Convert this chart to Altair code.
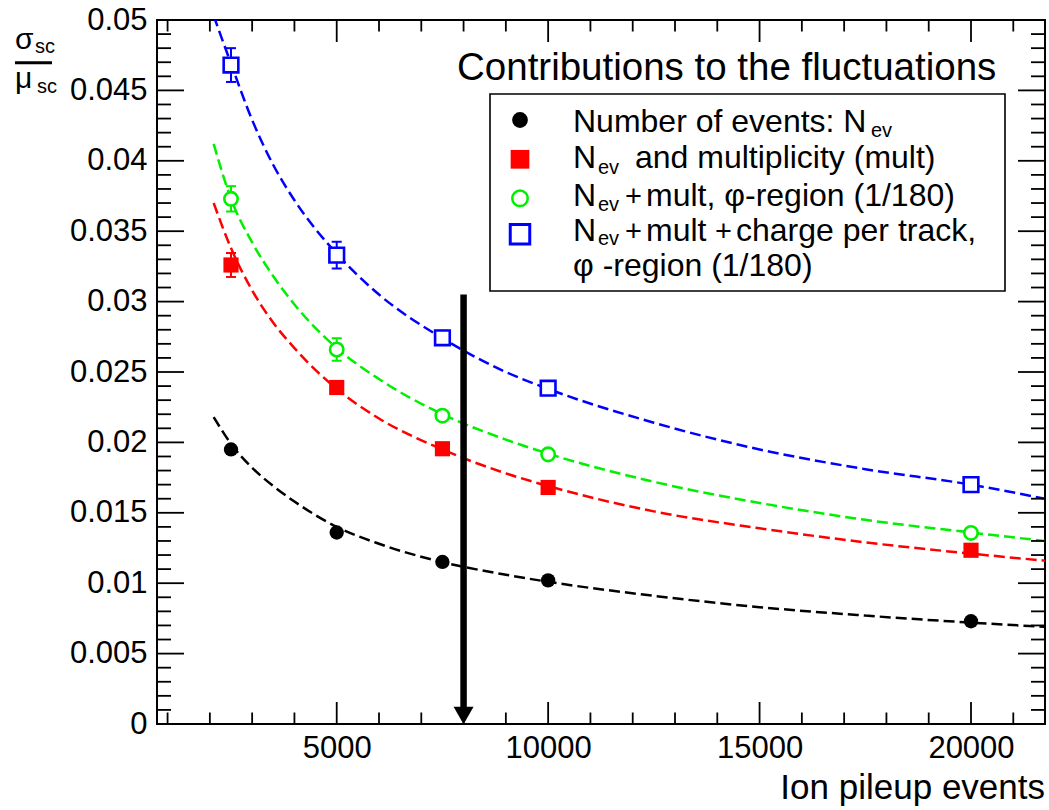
import altair as alt
import pandas as pd

# ---------------- data ----------------
X_EVENTS = [2500, 5000, 7500, 10000, 20000]

Y_NEV = [0.0195, 0.0136, 0.01151, 0.0102, 0.0073]
E_NEV = [0.0002, 0.0002, 0.0001, 0.0001, 0.0001]
Y_MULT = [0.0326, 0.0239, 0.01955, 0.0168, 0.01234]
E_MULT = [0.00085, 0.0004, 0.0002, 0.0002, 0.0001]
Y_PHI = [0.0373, 0.0266, 0.0219, 0.01915, 0.01357]
E_PHI = [0.0009, 0.0008, 0.0003, 0.0002, 0.0002]
Y_CHARGE = [0.0468, 0.0333, 0.02743, 0.02385, 0.0170]
E_CHARGE = [0.0012, 0.00095, 0.0005, 0.0003, 0.0002]

CURVE_X = [2090, 2500, 3000, 3500, 4000, 5000, 6000, 7500, 9000, 10000,
           12500, 15000, 17500, 20000, 21750]
CURVE_NEV = [0.0218, 0.0199, 0.0182, 0.0169, 0.0158, 0.0140, 0.0128, 0.0115,
             0.0106, 0.0101, 0.0091, 0.0083, 0.0077, 0.0072, 0.0069]
CURVE_MULT = [0.0370, 0.0338, 0.0308, 0.0285, 0.0267, 0.0238, 0.0217, 0.0195,
              0.0178, 0.0169, 0.0151, 0.0139, 0.0129, 0.0121, 0.0116]
CURVE_PHI = [0.0412, 0.0373, 0.0342, 0.0318, 0.0298, 0.0267, 0.0245, 0.0220,
             0.0202, 0.0192, 0.0172, 0.0157, 0.0145, 0.0136, 0.0130]
CURVE_CHARGE = [0.0503, 0.0469, 0.0429, 0.0397, 0.0372, 0.0334, 0.0305, 0.0274,
                0.0250, 0.0238, 0.0214, 0.0195, 0.0181, 0.0170, 0.0160]

ARROW_X = [8000]
ARROW_TOP = [0.0305]
ARROW_END = [0.0010]
ARROW_TIP = [0.0]

X_DOMAIN = [750, 21750]
Y_DOMAIN = [0, 0.05]
X_MAJOR = [5000, 10000, 15000, 20000]
X_MINOR = [1000, 2000, 3000, 4000, 6000, 7000, 8000, 9000, 11000, 12000, 13000,
           14000, 16000, 17000, 18000, 19000, 21000]
Y_MAJOR = [0, 0.005, 0.01, 0.015, 0.02, 0.025, 0.03, 0.035, 0.04, 0.045, 0.05]
Y_MINOR = [0.001, 0.002, 0.003, 0.004, 0.006, 0.007, 0.008, 0.009,
           0.011, 0.012, 0.013, 0.014, 0.016, 0.017, 0.018, 0.019,
           0.021, 0.022, 0.023, 0.024, 0.026, 0.027, 0.028, 0.029,
           0.031, 0.032, 0.033, 0.034, 0.036, 0.037, 0.038, 0.039,
           0.041, 0.042, 0.043, 0.044, 0.046, 0.047, 0.048, 0.049]

# ---------------- layout ----------------
W, H = 888, 704
FONT = "Liberation Sans"
BLACK, RED, GREEN, BLUE = "#000000", "#ff0000", "#00f000", "#0000ff"

XS = alt.Scale(domain=X_DOMAIN, nice=False, zero=False)
YS = alt.Scale(domain=Y_DOMAIN, nice=False, zero=False)
X_AXIS = alt.Axis(values=X_MAJOR, format="d", ticks=False, domain=False, grid=False,
                  labelFont=FONT, labelFontSize=31, labelColor="black",
                  labelPadding=9, title=None)
Y_AXIS = alt.Axis(values=Y_MAJOR, format="~g", ticks=False, domain=False, grid=False,
                  labelFont=FONT, labelFontSize=31, labelColor="black",
                  labelPadding=10, title=None)


def X(field):
    return alt.X(field, type="quantitative", scale=XS, axis=X_AXIS)


def Y(field):
    return alt.Y(field, type="quantitative", scale=YS, axis=Y_AXIS)


layers = []

series = [
    (Y_NEV, E_NEV, CURVE_NEV, BLACK, "circle", True, 205),
    (Y_MULT, E_MULT, CURVE_MULT, RED, "square", True, 230),
    (Y_PHI, E_PHI, CURVE_PHI, GREEN, "circle", False, 180),
    (Y_CHARGE, E_CHARGE, CURVE_CHARGE, BLUE, "square", False, 215),
]

# fit curves
for ys, es, cy, col, shape, filled, size in series:
    dfc = pd.DataFrame({"x": CURVE_X, "y": cy})
    layers.append(
        alt.Chart(dfc).mark_line(color=col, strokeWidth=2.5, strokeDash=[11, 5],
                                 interpolate="monotone", clip=True)
        .encode(x=X("x"), y=Y("y"))
    )

# arrow
dfa = pd.DataFrame({"x": ARROW_X, "top": ARROW_TOP, "end": ARROW_END, "tip": ARROW_TIP})
layers.append(alt.Chart(dfa).mark_rule(color="black", strokeWidth=6.5)
              .encode(x=X("x"), y=Y("top"), y2="end"))
layers.append(alt.Chart(dfa).mark_point(shape="triangle-down", filled=True, color="black",
                                        opacity=1, size=400, yOffset=-8.5)
              .encode(x=X("x"), y=Y("tip")))

# error bars and markers
for ys, es, cy, col, shape, filled, size in series:
    df = pd.DataFrame({"x": X_EVENTS, "y": ys,
                       "lo": [a - b for a, b in zip(ys, es)],
                       "hi": [a + b for a, b in zip(ys, es)]})
    base = alt.Chart(df)
    layers.append(base.mark_rule(color=col, strokeWidth=2).encode(x=X("x"), y=Y("lo"), y2="hi"))
    layers.append(base.mark_tick(color=col, thickness=2, size=10, orient="horizontal", opacity=1)
                  .encode(x=X("x"), y=Y("hi")))
    layers.append(base.mark_tick(color=col, thickness=2, size=10, orient="horizontal", opacity=1)
                  .encode(x=X("x"), y=Y("lo")))
    if filled:
        m = base.mark_point(shape=shape, filled=True, color=col, opacity=1, size=size, strokeWidth=0)
    else:
        m = base.mark_point(shape=shape, filled=False, fill="white", fillOpacity=1, stroke=col,
                            strokeWidth=2.6, opacity=1, size=size)
    layers.append(m.encode(x=X("x"), y=Y("y")))

# inward ticks on all four sides
dxM = pd.DataFrame({"v": X_MAJOR})
dxm = pd.DataFrame({"v": X_MINOR})
dyM = pd.DataFrame({"v": Y_MAJOR})
dym = pd.DataFrame({"v": Y_MINOR})
TW = 1.8
for d, L in ((dxM, 22), (dxm, 11.5)):
    layers.append(alt.Chart(d).mark_rule(color="black", strokeWidth=TW)
                  .encode(x=X("v"), y=alt.value(H), y2=alt.value(H - L)))
    layers.append(alt.Chart(d).mark_rule(color="black", strokeWidth=TW)
                  .encode(x=X("v"), y=alt.value(0), y2=alt.value(L)))
for d, L in ((dyM, 27), (dym, 14)):
    layers.append(alt.Chart(d).mark_rule(color="black", strokeWidth=TW)
                  .encode(y=Y("v"), x=alt.value(0), x2=alt.value(L)))
    layers.append(alt.Chart(d).mark_rule(color="black", strokeWidth=TW)
                  .encode(y=Y("v"), x=alt.value(W), x2=alt.value(W - L)))

# ---------------- legend, titles (pixel annotations) ----------------
one = pd.DataFrame({"a": [0]})


def txt(s, x, y, size, align="left", baseline="alphabetic"):
    return alt.Chart(one).mark_text(text=s, font=FONT, fontSize=size, color="black",
                                    align=align, baseline=baseline).encode(
        x=alt.value(x), y=alt.value(y))


layers.append(alt.Chart(one).mark_rect(fill="white", stroke="black", strokeWidth=1.6)
              .encode(x=alt.value(333), x2=alt.value(848), y=alt.value(74), y2=alt.value(271)))

LX = 363
layers.append(alt.Chart(one).mark_point(shape="circle", filled=True, color=BLACK, opacity=1,
                                        size=250, strokeWidth=0)
              .encode(x=alt.value(LX), y=alt.value(100)))
layers.append(alt.Chart(one).mark_point(shape="square", filled=True, color=RED, opacity=1,
                                        size=350, strokeWidth=0)
              .encode(x=alt.value(LX), y=alt.value(139.3)))
layers.append(alt.Chart(one).mark_point(shape="circle", filled=False, fill="white", fillOpacity=1,
                                        stroke=GREEN, strokeWidth=2.5, opacity=1, size=240)
              .encode(x=alt.value(LX), y=alt.value(178.3)))
layers.append(alt.Chart(one).mark_point(shape="square", filled=False, fill="white", fillOpacity=1,
                                        stroke=BLUE, strokeWidth=3, opacity=1, size=380)
              .encode(x=alt.value(LX), y=alt.value(214.3)))

TS, SS = 32, 20
layers += [
    txt("Contributions to the fluctuations", 300, 60, 38.5),
    txt("Number of events: N", 416, 111.7, TS),
    txt("ev", 714, 117, SS),
    txt("N", 416, 148.3, TS), txt("ev", 441, 153.5, SS),
    txt("and multiplicity (mult)", 478, 148.3, TS),
    txt("N", 416, 185.7, TS), txt("ev", 441, 190.5, SS),
    txt("+", 468, 185.7, 29), txt("mult, φ-region (1/180)", 489, 185.7, TS),
    txt("N", 416, 221, TS), txt("ev", 441, 224.5, SS),
    txt("+", 468, 221, 29), txt("mult", 489, 221, TS),
    txt("+", 558, 221, 29), txt("charge per track,", 579, 221, TS),
    txt("φ -region (1/180)", 416, 256, TS),
    # x title
    txt("Ion pileup events", W, 779, 35, align="right"),
    # y title: sigma_sc / mu_sc
    txt("σ", -142, 28.5, 30), txt("sc", -122, 33, SS),
    txt("μ", -142, 68, 30), txt("sc", -120, 73, SS),
]
layers.append(alt.Chart(one).mark_rule(color="black", strokeWidth=3)
              .encode(x=alt.value(-142), x2=alt.value(-105), y=alt.value(42.7)))

chart = alt.layer(*layers).properties(
    width=W, height=H,
    autosize=alt.AutoSizeParams(type="none"),
    padding={"left": 157, "top": 20, "right": 4, "bottom": 86},
    background="white",
).configure_view(stroke="black", strokeWidth=2)

chart.save("out.html", embed_options={"renderer": "svg", "actions": False})
